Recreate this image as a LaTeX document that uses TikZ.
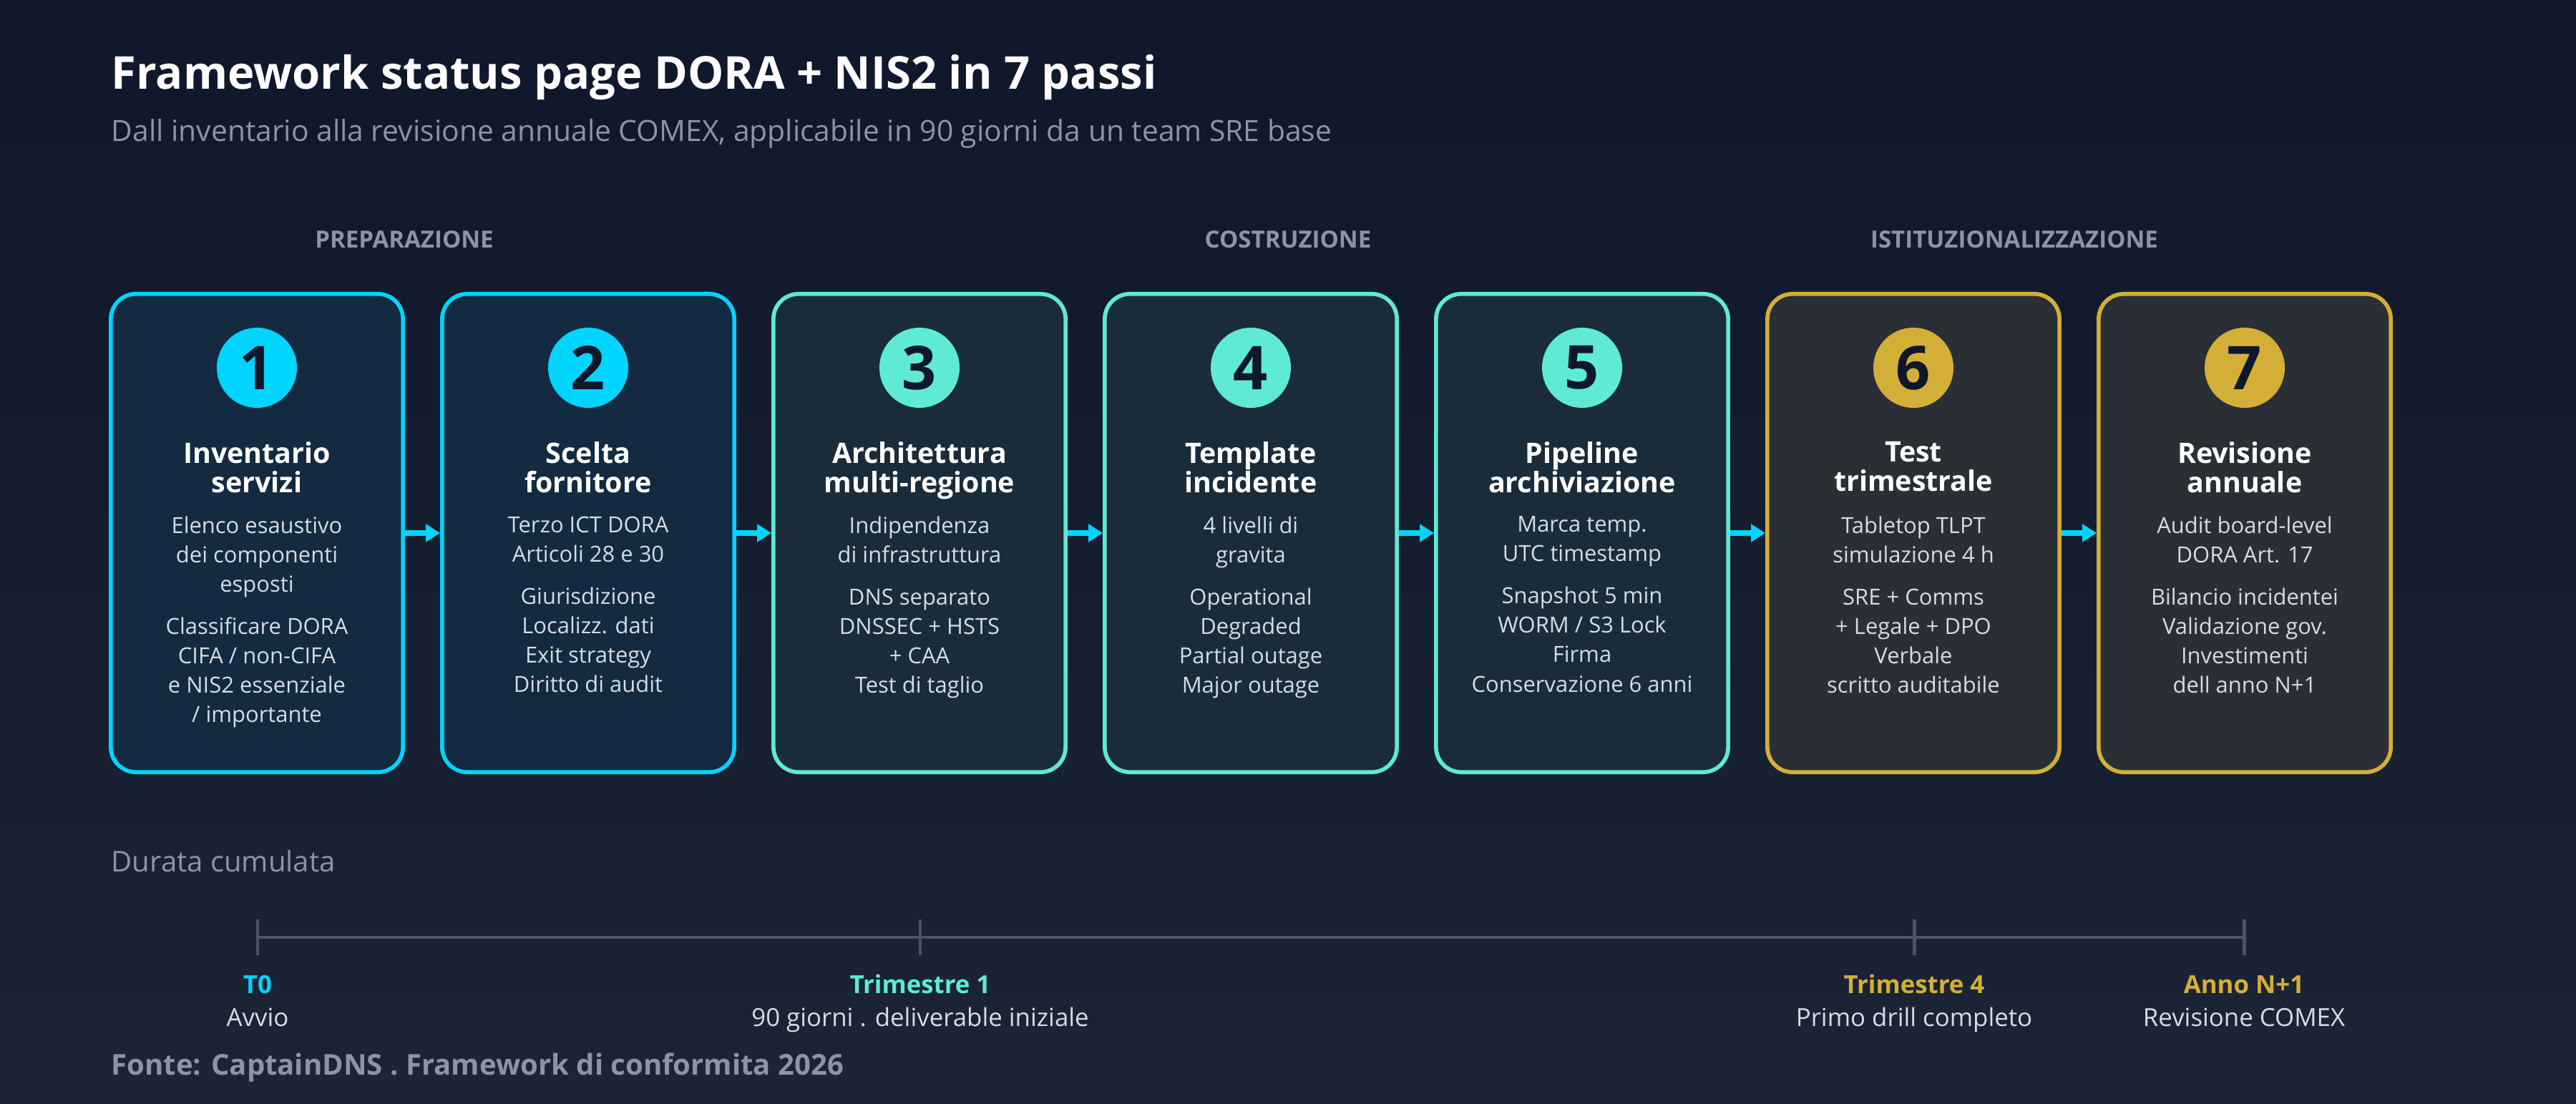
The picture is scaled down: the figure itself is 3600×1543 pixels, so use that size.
\documentclass[tikz,border=0pt]{standalone}
\usepackage{fontspec}
\setmainfont{Open Sans}
\usetikzlibrary{arrows.meta}

\definecolor{bgtop}{HTML}{0F172A}
\definecolor{bgbot}{HTML}{1B2535}
\definecolor{cyanstep}{HTML}{00D4FF}
\definecolor{mintstep}{HTML}{5EEAD4}
\definecolor{goldstep}{HTML}{D4AF37}
\definecolor{fillcyan}{HTML}{132A40}
\definecolor{fillmint}{HTML}{1A2C3A}
\definecolor{fillgold}{HTML}{2A2F36}
\definecolor{bodytext}{HTML}{D6DCE6}
\definecolor{mutedtext}{HTML}{8B95A5}
\definecolor{axisline}{HTML}{4B5565}

\def \boxw {4.08cm}
\def \boxh {6.68cm}
\def \pitch {463}

\tikzset{
  stepbox/.style={draw=#1step, line width=1.6pt, rounded corners=0.35cm,
    fill=fill#1, minimum width=\boxw, minimum height=\boxh, inner sep=0},
  stepnum/.style={circle, fill=#1step, minimum size=1.12cm, inner sep=0,
    text=bgtop, font=\fontsize{24}{24}\selectfont\bfseries},
  steptitle/.style={text=white, align=center, inner sep=0, anchor=north,
    font=\fontsize{11.2}{11.7}\selectfont\bfseries},
  stepbody/.style={text=bodytext, align=center, inner sep=0, anchor=north,
    font=\fontsize{8.8}{11.7}\selectfont},
  phase/.style={text=mutedtext, font=\fontsize{9.4}{11}\selectfont\bfseries},
  flow/.style={cyanstep, line width=2.2pt, -{Triangle[length=0.2cm, width=0.24cm]}},
  tick/.style={axisline, line width=1.4pt},
  milestone/.style={anchor=base, inner sep=0, font=\fontsize{9.9}{12}\selectfont\bfseries},
}

\begin{document}
\begin{tikzpicture}[x=0.01cm, y=-0.01cm]
\shade[top color=bgtop, bottom color=bgbot] (0,0) rectangle (3600,1543);
\useasboundingbox (0,0) rectangle (3600,1543);

% header
\node[anchor=base west, inner sep=0, text=white, font=\fontsize{18}{20}\selectfont\bfseries]
  (title) at (155,125) {Framework status page DORA + NIS2 in 7 passi};
\node[anchor=base west, inner sep=0, text=mutedtext, font=\fontsize{11.6}{13}\selectfont]
  (subtitle) at (155,198) {Dall inventario alla revisione annuale COMEX, applicabile in 90 giorni da un team SRE base};

% phases
\node[phase] (prep) at (565,335) {PREPARAZIONE};
\node[phase] (costr) at (1800,335) {COSTRUZIONE};
\node[phase] (istit) at (2815,335) {ISTITUZIONALIZZAZIONE};

% steps
\foreach \i/\col/\head/\body in {
  1/cyan/{Inventario\\servizi}/{Elenco esaustivo\\dei componenti\\esposti\\[5pt]Classificare DORA\\CIFA / non-CIFA\\e NIS2 essenziale\\/ importante},
  2/cyan/{Scelta\\fornitore}/{Terzo ICT DORA\\Articoli 28 e 30\\[5pt]Giurisdizione\\Localizz. dati\\Exit strategy\\Diritto di audit},
  3/mint/{Architettura\\multi-regione}/{Indipendenza\\di infrastruttura\\[5pt]DNS separato\\DNSSEC + HSTS\\+ CAA\\Test di taglio},
  4/mint/{Template\\incidente}/{4 livelli di\\gravita\\[5pt]Operational\\Degraded\\Partial outage\\Major outage},
  5/mint/{Pipeline\\archiviazione}/{Marca temp.\\UTC timestamp\\[5pt]Snapshot 5 min\\WORM / S3 Lock\\Firma\\Conservazione 6 anni},
  6/gold/{Test\\trimestrale}/{Tabletop TLPT\\simulazione 4 h\\[5pt]SRE + Comms\\+ Legale + DPO\\Verbale\\scritto auditabile},
  7/gold/{Revisione\\annuale}/{Audit board-level\\DORA Art. 17\\[5pt]Bilancio incidentei\\Validazione gov.\\Investimenti\\dell anno N+1}}
{
  \pgfmathsetmacro{\cx}{359+(\i-1)*\pitch}
  \node[stepbox=\col] (b\i) at (\cx,745) {};
  \node[stepnum=\col] (n\i) at (\cx,514) {\i};
  \node[steptitle] (h\i) at (\cx,617) {\head};
  \node[stepbody] (t\i) at (\cx,721) {\body};
}
\foreach \i [evaluate=\i as \j using int(\i+1)] in {1,...,6}
  \draw[flow] (b\i.east) -- (b\j.west);

% timeline
\node[anchor=base west, inner sep=0, text=mutedtext, font=\fontsize{11.4}{13}\selectfont]
  (dur) at (155,1218) {Durata cumulata};
\coordinate (m0) at (360,1310);
\coordinate (m1) at (1286,1310);
\coordinate (m2) at (2675,1310);
\coordinate (m3) at (3136,1310);
\draw[tick] (m0) -- (m3);
\foreach \m in {m0,m1,m2,m3}
  \draw[tick] ([yshift=-0.25cm]\m) -- ([yshift=0.25cm]\m);
\node[milestone, text=cyanstep] (l0) at (360,1388) {T0};
\node[milestone, text=mintstep] (l1) at (1286,1388) {Trimestre 1};
\node[milestone, text=goldstep] (l2) at (2675,1388) {Trimestre 4};
\node[milestone, text=goldstep] (l3) at (3136,1388) {Anno N+1};
\node[milestone, text=bodytext, font=\fontsize{9.9}{12}\selectfont] (s0) at (360,1434) {Avvio};
\node[milestone, text=bodytext, font=\fontsize{9.9}{12}\selectfont] (s1) at (1286,1434) {90 giorni . deliverable iniziale};
\node[milestone, text=bodytext, font=\fontsize{9.9}{12}\selectfont] (s2) at (2675,1434) {Primo drill completo};
\node[milestone, text=bodytext, font=\fontsize{9.9}{12}\selectfont] (s3) at (3136,1434) {Revisione COMEX};

\node[anchor=base west, inner sep=0, text=mutedtext, font=\fontsize{11.4}{13}\selectfont\bfseries]
  (source) at (155,1502) {Fonte: CaptainDNS . Framework di conformita 2026};
\end{tikzpicture}
\end{document}
